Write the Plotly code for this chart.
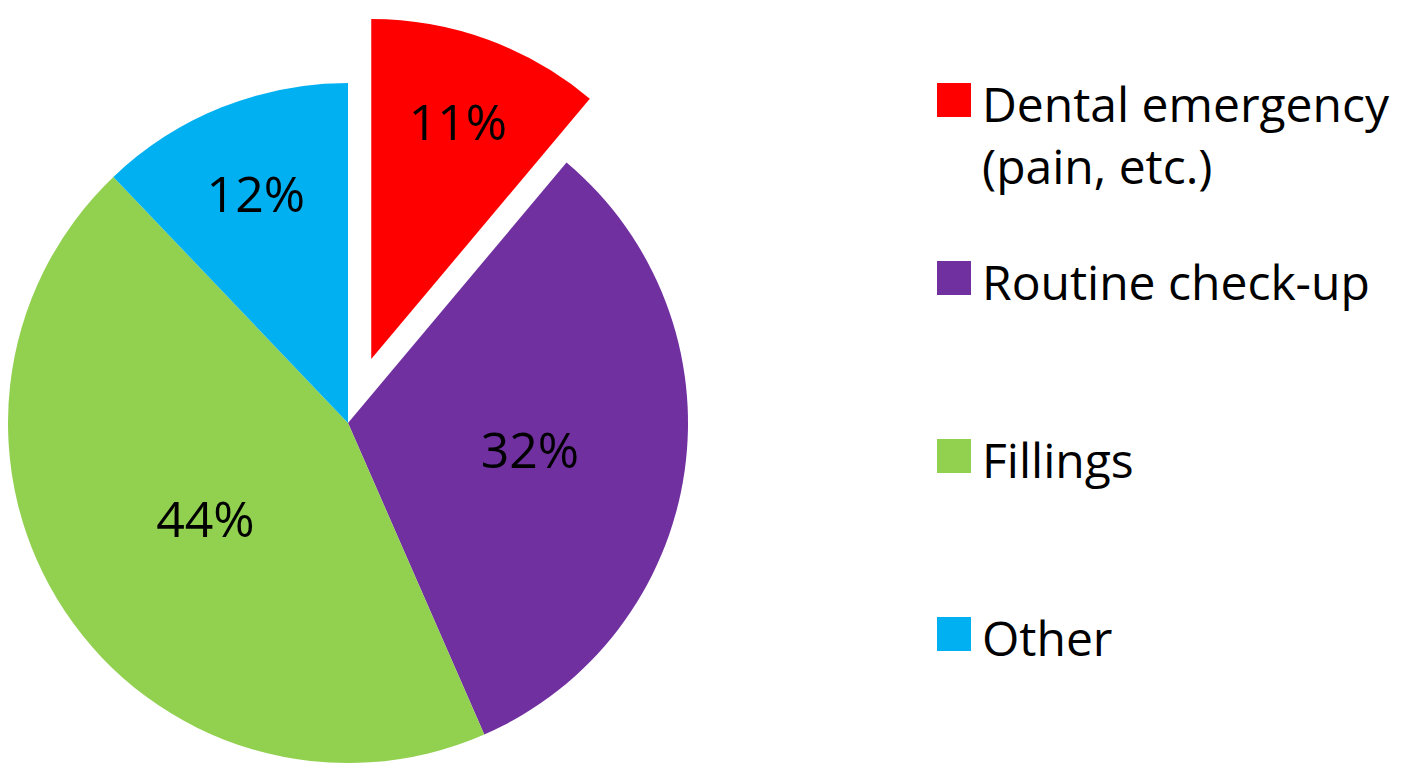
import math
import plotly.graph_objects as go

# ---- data ----
labels = ["Dental emergency (pain, etc.)", "Routine check-up", "Fillings", "Other"]
legend_text = ["Dental emergency<br>(pain, etc.)", "Routine check-up", "Fillings", "Other"]
values = [11, 32, 44, 12]
colors = ["#FF0000", "#7030A0", "#92D050", "#00B0F0"]
exploded = [True, False, False, False]

# ---- layout constants (screen pixels) ----
OFF = 8                      # default page body margin
W, H = 1424 - OFF, 775 - OFF  # figure size
CX, CY, R = 348, 423, 340
PULL_PX = 68
FONT = "Open Sans"
LABEL_SIZE = 50
LEG_SIZE = 48
LEG_SW_X, LEG_SW = 937, 34
LEG_TXT_X = 980
LEG_Y0, LEG_STEP = 100, 178
TRANSP = "rgba(0,0,0,0)"


def px(x):
    return min(max((x - OFF) / W, 0), 1)


def py(y):
    return min(max(1 - (y - OFF) / H, 0), 1)


def dom(cx, cy, r):
    return dict(x=[px(cx - r), px(cx + r)], y=[py(cy + r), py(cy - r)])


fig = go.Figure()

# main pie (exploded slices left empty)
fig.add_trace(go.Pie(
    labels=labels, values=values, sort=False, direction="clockwise", rotation=0,
    marker=dict(colors=[TRANSP if e else c for c, e in zip(colors, exploded)], line=dict(width=0)),
    texttemplate=["" if e else "%{value}%" for e in exploded],
    textposition="inside", insidetextorientation="horizontal",
    textfont=dict(family=FONT, size=LABEL_SIZE, color="black"),
    domain=dom(CX, CY, R), showlegend=False, hoverinfo="label+value",
))

# exploded slices, shifted outward along their mid angle
total = sum(values)
cum = 0
for i, (v, e) in enumerate(zip(values, exploded)):
    if e:
        mid = (cum + v / 2) / total * 2 * math.pi
        dx = PULL_PX * math.sin(mid)
        dy = -PULL_PX * math.cos(mid)
        fig.add_trace(go.Pie(
            labels=labels, values=values, sort=False, direction="clockwise", rotation=0,
            marker=dict(colors=[c if j == i else TRANSP for j, c in enumerate(colors)], line=dict(width=0)),
            texttemplate=["%{value}%" if j == i else "" for j in range(len(values))],
            textposition="inside", insidetextorientation="horizontal",
            textfont=dict(family=FONT, size=LABEL_SIZE, color="black"),
            domain=dom(CX + dx, CY + dy, R), showlegend=False, hoverinfo="label+value",
        ))
    cum += v

# legend (square swatches + text)
for i, (t, c) in enumerate(zip(legend_text, colors)):
    yc = LEG_Y0 + i * LEG_STEP
    fig.add_shape(type="rect", xref="paper", yref="paper",
                  x0=px(LEG_SW_X), x1=px(LEG_SW_X + LEG_SW),
                  y0=py(yc + LEG_SW / 2), y1=py(yc - LEG_SW / 2),
                  fillcolor=c, line=dict(width=0))
    fig.add_annotation(xref="paper", yref="paper", x=px(LEG_TXT_X),
                       y=py(yc - 0.65 * LEG_SIZE),
                       xanchor="left", yanchor="top", align="left", showarrow=False,
                       text=t, font=dict(family=FONT, size=LEG_SIZE, color="black"))

fig.update_layout(
    width=W, height=H, margin=dict(l=0, r=0, t=0, b=0),
    paper_bgcolor="white", plot_bgcolor="white", showlegend=False,
)

fig.write_html("out.html")
